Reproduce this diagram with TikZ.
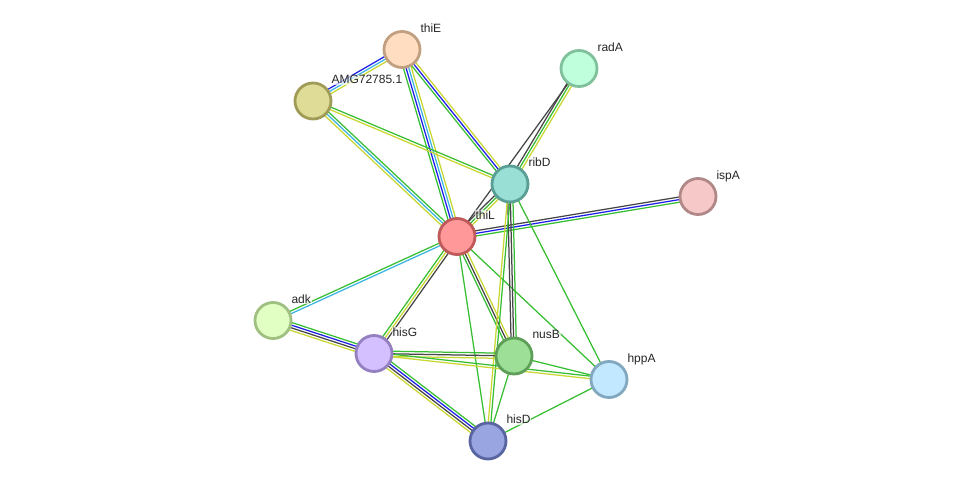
\documentclass[tikz,border=0pt]{standalone}
\usepackage{fontspec}
\setmainfont{Liberation Sans}
\usetikzlibrary{calc}
\pgfdeclarelayer{background}
\pgfsetlayers{background,main}
\definecolor{cgreen}{RGB}{55,190,50}
\definecolor{cyel}{RGB}{200,215,50}
\definecolor{cblue}{RGB}{30,30,235}
\definecolor{ccyan}{RGB}{60,180,225}
\definecolor{cgray}{RGB}{70,70,70}
\newcommand\medge[3]{%
  \foreach \c [count=\i] in {#3} {\xdef\nlines{\i}}%
  \foreach \c [count=\i] in {#3} {%
    \pgfmathsetmacro\off{(\i-(\nlines+1)/2)*2.6}%
    \draw[edgeline, color=\c] ($(#1.center)!\off pt!90:(#2.center)$) -- ($(#2.center)!\off pt!-90:(#1.center)$);
  }%
}
\tikzset{
  pnode/.style={circle, inner sep=0pt, minimum size=36pt, line width=2.8pt},
  lbl/.style={anchor=base west, font=\fontsize{12}{14}\selectfont, text=black!85, fill=white, fill opacity=0.65, text opacity=1, inner sep=0.8pt},
  edgeline/.style={line width=1.25pt}
}
\begin{document}
\begin{tikzpicture}[x=1pt,y=-1pt]
\useasboundingbox (0,0) rectangle (975,486);
\node[pnode, fill={rgb,255:red,255;green,221;blue,192}, draw={rgb,255:red,192;green,160;blue,128}] (thiE) at (402,49.5) {};
\node[pnode, fill={rgb,255:red,222;green,220;blue,150}, draw={rgb,255:red,160;green,156;blue,88}] (AMG) at (313,101) {};
\node[pnode, fill={rgb,255:red,191;green,255;blue,219}, draw={rgb,255:red,128;green,192;blue,155}] (radA) at (579,68.5) {};
\node[pnode, fill={rgb,255:red,154;green,223;blue,214}, draw={rgb,255:red,90;green,159;blue,150}] (ribD) at (510,184) {};
\node[pnode, fill={rgb,255:red,247;green,200;blue,200}, draw={rgb,255:red,176;green,136;blue,136}] (ispA) at (698,196.5) {};
\node[pnode, fill={rgb,255:red,255;green,153;blue,153}, draw={rgb,255:red,192;green,89;blue,89}] (thiL) at (457,236.5) {};
\node[pnode, fill={rgb,255:red,225;green,255;blue,194}, draw={rgb,255:red,160;green,192;blue,130}] (adk) at (273,320.5) {};
\node[pnode, fill={rgb,255:red,212;green,192;blue,255}, draw={rgb,255:red,148;green,128;blue,192}] (hisG) at (374,353.5) {};
\node[pnode, fill={rgb,255:red,158;green,223;blue,151}, draw={rgb,255:red,94;green,159;blue,87}] (nusB) at (514,356) {};
\node[pnode, fill={rgb,255:red,194;green,232;blue,255}, draw={rgb,255:red,130;green,168;blue,192}] (hppA) at (609,379.5) {};
\node[pnode, fill={rgb,255:red,152;green,165;blue,224}, draw={rgb,255:red,88;green,101;blue,160}] (hisD) at (488,441) {};
\begin{pgfonlayer}{background}
\fill[white] (0,0) rectangle (975,486);
\medge{thiE}{AMG}{cblue,ccyan,cyel}
\medge{thiE}{thiL}{cgreen,cblue,ccyan,cyel}
\medge{thiE}{ribD}{cgreen,cblue,cyel}
\medge{AMG}{ribD}{cyel,cgreen}
\medge{AMG}{thiL}{cyel,ccyan,cgreen}
\medge{radA}{ribD}{cgray,cgreen,cyel}
\medge{thiL}{radA}{cgray}
\medge{thiL}{ribD}{cyel,cgreen,cgray}
\medge{thiL}{ispA}{cgreen,cblue,cgray}
\medge{thiL}{adk}{cgreen,ccyan}
\medge{thiL}{hisG}{cgreen,cyel,cgray}
\medge{thiL}{nusB}{cgreen,cgray,cyel}
\medge{thiL}{hisD}{cgreen}
\medge{thiL}{hppA}{cgreen}
\medge{ribD}{nusB}{cgray,cgray,cgreen}
\medge{ribD}{hisD}{cyel,cgreen}
\medge{ribD}{hppA}{cgreen}
\medge{adk}{hisG}{cyel,cgray,cblue,cgreen}
\medge{hisG}{nusB}{cyel,cgray,cgreen}
\medge{hisG}{hppA}{cyel,cgreen}
\medge{hisG}{hisD}{cyel,cgray,cblue,cgreen}
\medge{nusB}{hppA}{cgreen}
\medge{nusB}{hisD}{cgreen}
\medge{hppA}{hisD}{cgreen}
\end{pgfonlayer}
\node[lbl] (thiE-l) at ($(thiE.center)+(17.5,-17)$) {thiE};
\node[lbl] (AMG-l) at ($(AMG.center)+(17.5,-17)$) {AMG72785.1};
\node[lbl] (radA-l) at ($(radA.center)+(17.5,-17)$) {radA};
\node[lbl] (ribD-l) at ($(ribD.center)+(17.5,-17)$) {ribD};
\node[lbl] (ispA-l) at ($(ispA.center)+(17.5,-17)$) {ispA};
\node[lbl] (thiL-l) at ($(thiL.center)+(17.5,-17)$) {thiL};
\node[lbl] (adk-l) at ($(adk.center)+(17.5,-17)$) {adk};
\node[lbl] (hisG-l) at ($(hisG.center)+(17.5,-17)$) {hisG};
\node[lbl] (nusB-l) at ($(nusB.center)+(17.5,-17)$) {nusB};
\node[lbl] (hppA-l) at ($(hppA.center)+(17.5,-17)$) {hppA};
\node[lbl] (hisD-l) at ($(hisD.center)+(17.5,-17)$) {hisD};
\end{tikzpicture}
\end{document}
